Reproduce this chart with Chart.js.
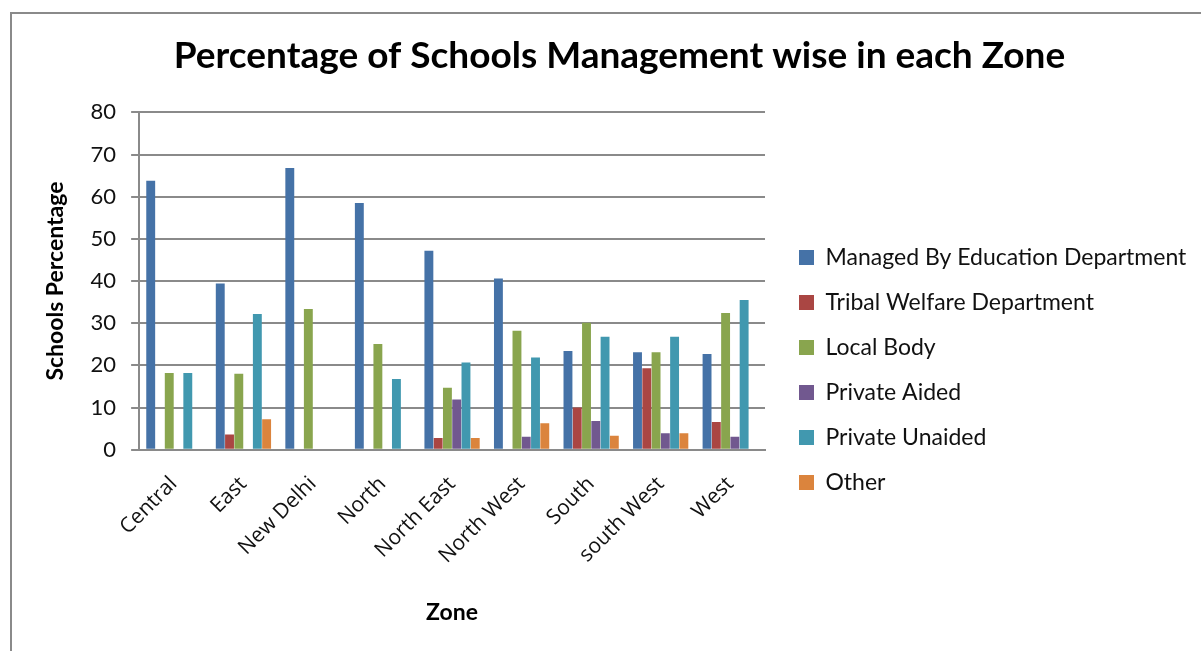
<!DOCTYPE html>
<html>
<head>
<meta charset="utf-8">
<script src="https://cdn.jsdelivr.net/npm/chart.js@4.4.1/dist/chart.umd.min.js"></script>
<style>
    html, body { margin: 0; padding: 0; background: #fff; overflow: hidden; }
    #frame {
        position: absolute; left: 10px; top: 12px;
        width: 1189px; height: 637px;
        border-top: 2px solid #8a8a8a; border-left: 2px solid #8a8a8a;
    }
</style>
</head>
<body>
<div id="frame"><canvas id="zoneChart"></canvas></div>
<script>
// zones on the x-axis
const zones = ['Central', 'East', 'New Delhi', 'North', 'North East', 'North West', 'South', 'south West', 'West'];

// percentage of schools per management type
const educationDept  = [63.8, 39.4, 66.8, 58.5, 47.2, 40.6, 23.4, 23.1, 22.7];
const tribalWelfare  = [0, 3.6, 0, 0, 2.8, 0, 10.0, 19.3, 6.6];
const localBody      = [18.2, 18.0, 33.4, 25.1, 14.7, 28.2, 30.1, 23.1, 32.4];
const privateAided   = [0, 0, 0, 0, 11.9, 3.1, 6.8, 3.9, 3.1];
const privateUnaided = [18.2, 32.2, 0, 16.8, 20.7, 21.9, 26.8, 26.8, 35.5];
const other          = [0, 7.2, 0, 0, 2.8, 6.3, 3.3, 3.9, 0];

const yTicks = [0, 10, 20, 30, 40, 50, 60, 70, 80];

// legend sits in a wide column to the right of the plot (Chart.js caps it at a quarter of the width otherwise)
const LEGEND_WIDTH = 436;
const LEGEND_SHIFT_X = 12;
const LEGEND_SHIFT_Y = 48;

const legendPlacement = {
    id: 'legendPlacement',
    beforeLayout(chart) {
        const legend = chart.legend;
        if (legend && !legend._wide) {
            const fit = legend.fit.bind(legend);
            legend.fit = function () {
                fit();
                this.width = LEGEND_WIDTH;
            };
            legend._wide = true;
        }
    },
    afterLayout(chart) {
        const legend = chart.legend;
        legend.left += LEGEND_SHIFT_X;
        legend.right += LEGEND_SHIFT_X;
        legend.top += LEGEND_SHIFT_Y;
        legend.bottom += LEGEND_SHIFT_Y;
    }
};

document.addEventListener('DOMContentLoaded', function () {
    const ctx = document.getElementById('zoneChart').getContext('2d');

    function bars(label, data, color) {
        return {
            label: label,
            data: data,
            backgroundColor: color,
            borderWidth: 0,
            categoryPercentage: 0.8,
            barPercentage: 0.96
        };
    }

    new Chart(ctx, {
        type: 'bar',
        data: {
            labels: zones,
            datasets: [
                bars('Managed By Education Department', educationDept, '#4572A7'),
                bars('Tribal Welfare Department', tribalWelfare, '#AA4643'),
                bars('Local Body', localBody, '#89A54E'),
                bars('Private Aided', privateAided, '#71588F'),
                bars('Private Unaided', privateUnaided, '#4198AF'),
                bars('Other', other, '#DB843D')
            ]
        },
        plugins: [legendPlacement],
        options: {
            responsive: true,
            maintainAspectRatio: false,
            animation: false,
            layout: { padding: { left: 26, right: 0, top: 0, bottom: 21 } },
            plugins: {
                tooltip: { enabled: false },
                title: {
                    display: true,
                    text: 'Percentage of Schools Management wise in each Zone',
                    color: '#000',
                    font: { family: 'Lato, sans-serif', size: 37, weight: 'bold' },
                    padding: { top: 20, bottom: 34 }
                },
                legend: {
                    position: 'right',
                    labels: {
                        color: '#111',
                        boxWidth: 15,
                        boxHeight: 15,
                        padding: 22,
                        font: { family: 'Lato, sans-serif', size: 23 }
                    }
                }
            },
            scales: {
                x: {
                    grid: { display: false },
                    border: { display: true, color: '#8a8a8a', width: 2 },
                    ticks: {
                        color: '#111',
                        maxRotation: 45,
                        minRotation: 45,
                        padding: 14,
                        font: { family: '"Open Sans", sans-serif', size: 21 }
                    },
                    title: {
                        display: true,
                        text: 'Zone',
                        color: '#000',
                        font: { family: 'Lato, sans-serif', size: 23, weight: 'bold' },
                        padding: { top: 16 }
                    }
                },
                y: {
                    min: 0,
                    max: 80,
                    afterBuildTicks: function (axis) {
                        axis.ticks = yTicks.map(v => ({ value: v }));
                    },
                    grid: { color: '#8a8a8a', lineWidth: 2, tickLength: 8 },
                    border: { display: true, color: '#8a8a8a', width: 2 },
                    ticks: {
                        color: '#111',
                        padding: 15,
                        font: { family: 'Lato, sans-serif', size: 22 }
                    },
                    title: {
                        display: true,
                        text: 'Schools Percentage',
                        color: '#000',
                        font: { family: 'Lato, sans-serif', size: 23, weight: 'bold' },
                        padding: { bottom: 6 }
                    }
                }
            }
        }
    });
});
</script>
</body>
</html>
